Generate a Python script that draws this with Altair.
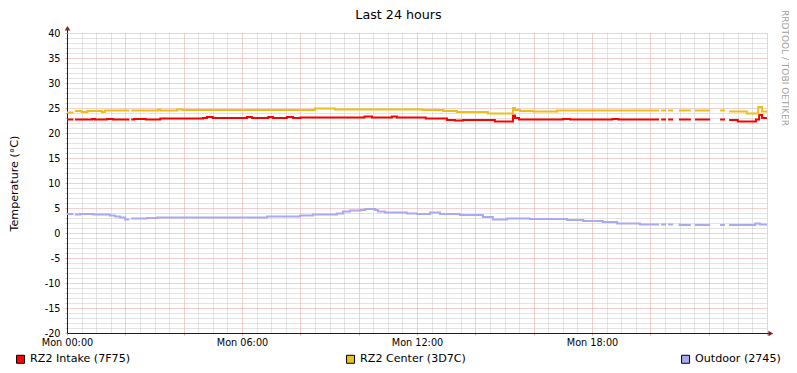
import altair as alt
import pandas as pd

FONT = "DejaVu Sans"

SERIES = ["RZ2 Intake (7F75)", "RZ2 Center (3D7C)", "Outdoor (2745)"]
COLORS = ["#ff0000", "#ecc01c", "#aaaaf4"]

# Step change points: hours since Mon 00:00 and the value held from there on
INTAKE_T = [0, 0.86, 0.96, 1.37, 1.58, 2.3, 2.7, 3.2, 4.66, 4.8, 5.0, 6.17, 6.34, 6.9, 7.06,
            7.54, 7.75, 8.0, 10.2, 10.46, 11.14, 11.31, 12.3, 13.03, 13.3, 13.58, 14.67, 15.29,
            15.36, 15.5, 17.0, 17.25, 18.7, 18.9, 22.7, 23.0, 23.62, 23.73, 23.83]
INTAKE_V = [22.7, 22.8, 22.7, 22.8, 22.7, 22.8, 22.7, 22.9, 23.0, 23.2, 23.0, 23.2, 23.0, 23.2, 23.0,
            23.2, 23.0, 23.1, 23.3, 23.1, 23.3, 23.1, 22.9, 22.6, 22.5, 22.6, 22.3, 23.5,
            23.0, 22.7, 22.8, 22.7, 22.8, 22.7, 22.6, 22.3, 22.7, 23.6, 23.0]

CENTER_T = [0, 0.27, 0.5, 0.7, 1.2, 1.3, 3.12, 3.2, 3.77, 3.98, 8.5, 9.19, 12.2, 12.9, 13.37,
            14.43, 15.29, 15.36, 15.53, 16.0, 16.8, 22.7, 23.31, 23.7, 23.83]
CENTER_V = [24.1, 24.4, 24.2, 24.4, 24.2, 24.5, 24.7, 24.5, 24.7, 24.6, 24.9, 24.7, 24.6, 24.4, 24.2,
            23.9, 25.0, 24.6, 24.4, 24.3, 24.5, 24.3, 23.9, 25.2, 24.3]

OUTDOOR_T = [0, 0.27, 0.45, 0.9, 1.47, 1.65, 1.82, 1.99, 2.2, 2.74, 3.09, 6.86, 7.99, 8.43, 9.26,
             9.46, 9.7, 10.05, 10.22, 10.56, 10.66, 10.9, 11.66, 12.0, 12.45, 12.79, 13.47, 14.26,
             14.6, 15.09, 15.87, 17.14, 17.7, 18.37, 18.86, 19.65, 21.0, 23.6, 23.76]
OUTDOOR_V = [3.8, 3.7, 3.8, 3.7, 3.5, 3.3, 3.1, 2.7, 2.9, 3.0, 3.1, 3.3, 3.5, 3.7, 3.9,
             4.3, 4.5, 4.6, 4.8, 4.6, 4.3, 4.1, 3.9, 3.8, 4.1, 3.8, 3.6, 3.2,
             2.7, 2.9, 2.8, 2.6, 2.4, 2.2, 1.9, 1.7, 1.6, 1.9, 1.7]

# Missing-data gaps (hours)
GAP_START = [0.22, 2.14, 20.30, 20.54, 20.78, 21.39, 22.05, 22.56]
GAP_END = [0.27, 2.20, 20.37, 20.61, 20.98, 21.53, 22.39, 22.70]
END_HOUR = 24.0

X_TICKS = [h / 2 for h in range(49)]
Y_TICKS = list(range(-20, 41))

MINOR = "#c6c6c6"
MAJOR = "#e6a0a0"
AXIS = "#1f1f1f"
ARROW = "#801f1f"


def steps(name, ts, vs):
    def value_at(h, before=False):
        v = vs[0]
        for t, x in zip(ts, vs):
            if t < h or (t == h and not before):
                v = x
        return v

    events = sorted(set(ts) | set(GAP_START) | set(GAP_END) | {END_HOUR})
    out = []
    for h in events:
        if h in GAP_START:
            out.append((name, h, value_at(h, before=True)))
            out.append((name, h, None))
        elif any(a < h < b for a, b in zip(GAP_START, GAP_END)):
            continue
        else:
            out.append((name, h, value_at(h)))
    return out


rows = []
for name, ts, vs in zip(SERIES, [INTAKE_T, CENTER_T, OUTDOOR_T], [INTAKE_V, CENTER_V, OUTDOOR_V]):
    rows += steps(name, ts, vs)
df = pd.DataFrame(rows, columns=["series", "hour", "temp"])
df["i"] = range(len(df))

xscale = alt.Scale(domain=[0, 24], nice=False, zero=False)
yscale = alt.Scale(domain=[-20, 40], nice=False, zero=False)

x_axis = alt.Axis(
    values=X_TICKS, title=None,
    labelExpr="datum.value % 6 === 0 && datum.value < 24 ? 'Mon ' + (datum.value < 10 ? '0' : '') + datum.value + ':00' : ''",
    labelFont=FONT, labelFontSize=9.7, labelColor="black", labelPadding=2,
    labelFlush=False, labelOverlap=False,
    tickSize=2, tickColor={"condition": {"test": "datum.value % 2 === 0", "value": MAJOR}, "value": "transparent"},
    grid=True, gridDash=[1, 1], gridWidth=1,
    gridColor={"condition": {"test": "datum.value % 2 === 0", "value": MAJOR}, "value": MINOR},
    domainColor=AXIS, domainWidth=1,
)
y_axis = alt.Axis(
    values=Y_TICKS, title="Temperature (°C)",
    titleFont=FONT, titleFontSize=11.1, titleFontWeight="normal", titleColor="black",
    titleX=-53, titleY=150, titleAngle=270, titleAlign="center", titleBaseline="middle",
    labelExpr="datum.value % 5 === 0 ? '' + datum.value : ''",
    labelFont=FONT, labelFontSize=9.7, labelColor="black", labelPadding=5,
    labelFlush=False, labelOverlap=False,
    tickSize=2, tickColor={"condition": {"test": "datum.value % 5 === 0", "value": MAJOR}, "value": MINOR},
    grid=True, gridDash=[1, 1], gridWidth=1,
    gridColor={"condition": {"test": "datum.value % 5 === 0", "value": MAJOR}, "value": MINOR},
    domainColor=AXIS, domainWidth=1,
)

legend = alt.Legend(
    title=None, orient="none", legendX=-52, legendY=320.5, direction="horizontal",
    symbolType="square", symbolSize=64, symbolStrokeWidth=1, symbolStrokeColor="black",
    symbolOpacity=1, labelFont=FONT, labelFontSize=11.1, labelColor="black",
    labelOffset=4, columnPadding=213, padding=0,
)

line_layers = []
for name, col in zip(SERIES, COLORS):
    line_layers.append(
        alt.Chart(df).transform_filter(alt.datum.series == name).mark_line(
            interpolate="step-after", strokeWidth=2, color=col,
            invalid="break-paths-show-domains",
        ).encode(
            x=alt.X("hour:Q", scale=xscale, axis=x_axis),
            y=alt.Y("temp:Q", scale=yscale, axis=y_axis),
            order=alt.Order("i:Q"),
        )
    )

# legend layer: zero-size squares (invisible) that carry the fill legend only
legend_df = pd.DataFrame({"series": SERIES})
legend_layer = alt.Chart(legend_df).mark_square(size=0).encode(
    fill=alt.Fill("series:N", scale=alt.Scale(domain=SERIES, range=COLORS), legend=legend),
)

one = alt.Data(values=[{}])

# axis arrows (decoration beyond the plot frame)
y_ext = alt.Chart(one).mark_rule(color=AXIS, strokeWidth=1).encode(
    x=alt.value(0.5), y=alt.value(0), y2=alt.value(-4.5),
)
x_ext = alt.Chart(one).mark_rule(color=AXIS, strokeWidth=1).encode(
    x=alt.value(700), x2=alt.value(704), y=alt.value(300.5),
)
up_arrow = alt.Chart(one).mark_point(shape="triangle-up", filled=True, size=30, color=ARROW,
                                     opacity=1).encode(x=alt.value(0.5), y=alt.value(-4.75))
right_arrow = alt.Chart(one).mark_point(shape="triangle-right", filled=True, size=30, color=ARROW,
                                        opacity=1).encode(x=alt.value(703.8), y=alt.value(300.5))

title = alt.Chart(one).mark_text(
    text="Last 24 hours", font=FONT, fontSize=12.7, color="black",
    align="center", baseline="alphabetic",
).encode(x=alt.value(331.5), y=alt.value(-14))

credit = alt.Chart(one).mark_text(
    text="RRDTOOL / TOBI OETIKER", font=FONT, fontSize=9, color="#a0a0a0",
    angle=90, align="left", baseline="middle",
).encode(x=alt.value(718), y=alt.value(-23))

chart = alt.layer(*line_layers, legend_layer, y_ext, x_ext, up_arrow, right_arrow, title, credit).properties(
    width=700, height=300,
    autosize=alt.AutoSizeParams(type="none"),
    padding={"left": 59, "top": 25, "right": 22, "bottom": 32},
    background="white",
).configure_view(strokeWidth=0)

chart.save("out.html", embed_options={"renderer": "svg", "actions": False})
